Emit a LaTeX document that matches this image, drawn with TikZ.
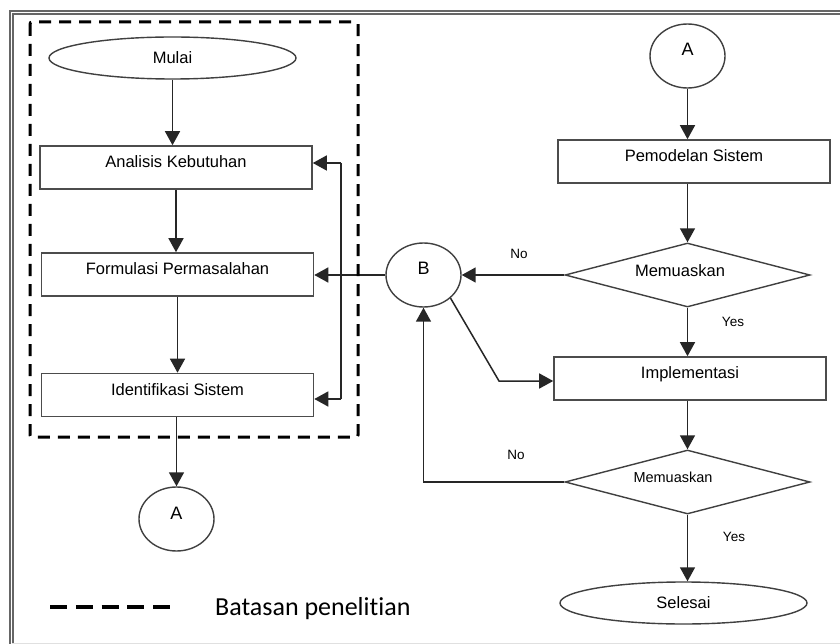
\documentclass[tikz,border=0pt]{standalone}
\usepackage{fontspec}
\setmainfont{Liberation Sans}
\newfontfamily\legendfont[Ligatures={NoCommon}]{Carlito}
\usetikzlibrary{shapes.geometric,arrows.meta,calc}
\begin{document}
\begin{tikzpicture}[x=1pt,y=-1pt,
  line/.style={draw=black!85,line width=1.5pt},
  arr/.style={line,-{Triangle[length=14pt,width=15pt]}},
  procbox/.style={draw=black!70,line width=1.6pt,rectangle,inner xsep=0pt,inner ysep=0pt,minimum width=272pt,text height=21.5pt,text depth=21.5pt,font=\fontsize{16.5}{18}\selectfont},
  terminal/.style={draw=black!75,line width=1.4pt,ellipse,inner sep=0pt,minimum width=247pt,minimum height=42pt,font=\fontsize{16.5}{18}\selectfont},
  connector/.style={draw=black!75,line width=1.4pt,ellipse,inner sep=0pt,minimum width=75pt,minimum height=64pt,text height=6pt,text depth=6pt,font=\fontsize{18}{20}\selectfont},
  decision/.style={draw=black!75,line width=1.4pt,diamond,inner sep=0pt,minimum width=245pt,minimum height=64pt},
  small/.style={font=\fontsize{13.5}{15}\selectfont},
]
\useasboundingbox[fill=white] (0,0) rectangle (840,644);
% outer frame
\draw[draw=black!60,line width=1.2pt,double=white,double distance=1.8pt] (11.5,646) -- (11.5,12.5) -- (842,12.5);
\draw[draw=black!12,line width=1pt] (11.5,643) -- (840,643);

% nodes left column
\node[terminal] (Mulai) at (172.5,58) {Mulai};
\node[procbox] (Analisis) at (176,167.5) {Analisis Kebutuhan};
\node[procbox] (Formulasi) at (177.5,274.5) {Formulasi Permasalahan};
\node[procbox] (Identifikasi) at (177.5,395) {Identifikasi Sistem};
\node[connector] (A1) at (176.5,519) {A};
\node[connector] (B) at (423.5,275) {B};

% right column
\node[connector] (A2) at (687.5,56) {A};
\node[procbox] (Pemodelan) at (694,161.5) {Pemodelan Sistem};
\node[decision,label={[xshift=-7.5pt,yshift=4pt,font=\fontsize{16.5}{18}\selectfont]center:Memuaskan}] (M1) at (687.5,275) {};
\node[procbox] (Impl) at (690,378.5) {Implementasi};
\node[decision,label={[xshift=-14.5pt,yshift=5pt,font=\fontsize{14.5}{16}\selectfont]center:Memuaskan}] (M2) at (687.5,482) {};
\node[terminal] (Selesai) at (683.5,603) {Selesai};

% left connections
\draw[arr] (Mulai.south) -- (Mulai.south |- Analisis.north);
\draw[arr] (Analisis.south) -- (Analisis.south |- Formulasi.north);
\draw[arr] (Formulasi.south) -- (Formulasi.south |- Identifikasi.north);
\draw[arr] (A1.north |- Identifikasi.south) -- (A1.north);

\coordinate (fbtop) at (341,163);
\coordinate (fbbot) at (341,399);
\draw[line] (fbtop) -- (fbbot);
\draw[arr] (fbtop) -- (fbtop -| Analisis.east);
\draw[arr] (fbbot) -- (fbbot -| Identifikasi.east);
\draw[arr] (B.west) -- (B.west -| Formulasi.east);

% right connections
\draw[arr] (A2.south) -- (A2.south |- Pemodelan.north);
\draw[arr] (A2.south |- Pemodelan.south) -- (M1.north);
\draw[arr] (M1.south) -- (M1.south |- Impl.north);
\draw[arr] (M1.south |- Impl.south) -- (M2.north);
\draw[arr] (M2.south) -- (M2.south |- Selesai.north);
\draw[arr] (M1.west) -- (B.east);
\draw[arr] (M2.west) -| (B.south);
\coordinate (bend) at (499,381);
\draw[arr] (B.south east) -- (bend) -- (bend -| Impl.west);

% labels
\node[small] (no1) at (519,254) {No};
\node[small] (yes1) at (733,322) {Yes};
\node[small] (no2) at (516,455) {No};
\node[small] (yes2) at (734,537) {Yes};

% research boundary
\draw[line width=3pt,dash pattern=on 12pt off 8pt,rounded corners=2pt] (30,22) rectangle (358,437);

% legend
\draw[line width=4pt,dash pattern=on 17pt off 8.75pt] (50,607) -- (170,607);
\node[font=\legendfont\fontsize{26}{30}\selectfont,anchor=base west,inner sep=0pt] (legend) at (215,615) {Batasan penelitian};
\end{tikzpicture}
\end{document}
